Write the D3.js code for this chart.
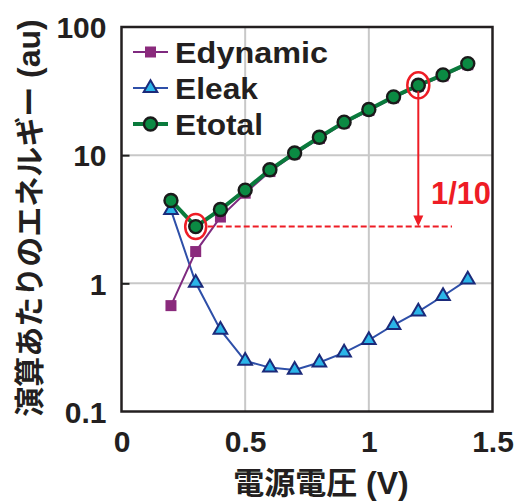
<!DOCTYPE html>
<html><head><meta charset="utf-8">
<script src="https://cdn.jsdelivr.net/npm/d3@7"></script>
<style>
html,body{margin:0;padding:0;background:#fff;}
svg{display:block;}
</style></head>
<body>
<svg id="chart" width="519" height="502"></svg>
<script>
// ---- data ----
const voltages = [0.2,0.3,0.4,0.5,0.6,0.7,0.8,0.9,1.0,1.1,1.2,1.3,1.4];
const eDynamic = [0.67,1.77,3.29,5.05,7.45,10.2,13.5,17.8,22.3,28.0,34.5,41.5,50.8];
const eLeak    = [3.73,1.01,0.433,0.248,0.220,0.211,0.241,0.288,0.361,0.473,0.601,0.796,1.07];
const eTotal   = [4.43,2.77,3.77,5.34,7.69,10.4,13.8,18.1,22.7,28.5,35.1,42.3,51.8];
const seriesNames = ["Edynamic","Eleak","Etotal"];
const xTicks = [0,0.5,1,1.5];
const xTickLabels = ["0","0.5","1","1.5"];
const yTicks = [0.1,1,10,100];
const yTickLabels = ["0.1","1","10","100"];
const xTitle = "電源電圧";
const xUnit = " (V)";
const yTitle = "演算あたりのエネルギー";
const yUnit = " (au)";
const ratioLabel = "1/10";
const minIndex = 1;   // 0.3 V
const refIndex = 10;  // 1.2 V

// ---- layout ----
const svg = d3.select("#chart");
const L = 121.5, R = 492.5, T = 27, B = 411.5;
const x = d3.scaleLinear().domain([0,1.5]).range([L,R]);
const y = d3.scaleLog().domain([0.1,100]).range([B,T]);
const LATIN = "'Liberation Sans', Arial, Helvetica, sans-serif";
const CJK = "'Noto Sans CJK JP', 'Liberation Sans', sans-serif";

// gridlines
const grid = svg.append("g");
grid.selectAll("line.v").data([0.5,1]).enter().append("line")
  .attr("x1",d=>x(d)).attr("x2",d=>x(d)).attr("y1",T).attr("y2",B)
  .attr("stroke","#c8c8c8").attr("stroke-width",2);
grid.selectAll("line.h").data([1,10]).enter().append("line")
  .attr("x1",L).attr("x2",R).attr("y1",d=>y(d)).attr("y2",d=>y(d))
  .attr("stroke","#c8c8c8").attr("stroke-width",2);

// axes
const yAxis = d3.axisRight(y).tickValues([1,10]).tickSize(8).tickFormat("");
const ya = svg.append("g").attr("transform",`translate(${L},0)`).call(yAxis);
ya.select(".domain").remove();
ya.selectAll("line").attr("stroke","#222").attr("stroke-width",2);

const xAxisG = svg.append("g").attr("transform",`translate(0,${B})`)
  .call(d3.axisBottom(x).tickValues(xTicks).tickSize(0).tickFormat((d,i)=>xTickLabels[i]));
xAxisG.select(".domain").remove();
xAxisG.selectAll("text").attr("y",40).attr("dy",0)
  .attr("font-family",LATIN).attr("font-weight","bold").attr("font-size",30).attr("fill","#231f20");

const yAxisG = svg.append("g").attr("transform",`translate(${L},0)`)
  .call(d3.axisLeft(y).tickValues(yTicks).tickSize(0).tickFormat((d,i)=>yTickLabels[i]));
yAxisG.select(".domain").remove();
yAxisG.selectAll("text").attr("x",-15).attr("dy","0.36em")
  .attr("font-family",LATIN).attr("font-weight","bold").attr("font-size",30).attr("fill","#231f20");

// series
const colors = {Edynamic:"#7f2a7f", Eleak:"#2e4fa8", Etotal:"#0a7a3c"};
const mk = (vals)=>voltages.map((v,i)=>({x:v,y:vals[i]}));
const line = d3.line().x(d=>x(d.x)).y(d=>y(d.y));

const gLeak = svg.append("g");
gLeak.append("path").datum(mk(eLeak)).attr("d",line).attr("fill","none")
  .attr("stroke",colors.Eleak).attr("stroke-width",2);
const tri = d3.symbol().type(d3.symbolTriangle).size(80);
gLeak.selectAll("path.m").data(mk(eLeak)).enter().append("path")
  .attr("transform",d=>`translate(${x(d.x)},${y(d.y)})`).attr("d",tri)
  .attr("fill","#2bb5e8").attr("stroke","#1b2a7a").attr("stroke-width",2);

const gDyn = svg.append("g");
gDyn.append("path").datum(mk(eDynamic)).attr("d",line).attr("fill","none")
  .attr("stroke",colors.Edynamic).attr("stroke-width",2);
gDyn.selectAll("rect").data(mk(eDynamic)).enter().append("rect")
  .attr("x",d=>x(d.x)-5.5).attr("y",d=>y(d.y)-5.5).attr("width",11).attr("height",11)
  .attr("fill","#8a2a7c");

const gTot = svg.append("g");
gTot.append("path").datum(mk(eTotal)).attr("d",line).attr("fill","none")
  .attr("stroke",colors.Etotal).attr("stroke-width",4);
gTot.selectAll("circle").data(mk(eTotal)).enter().append("circle")
  .attr("cx",d=>x(d.x)).attr("cy",d=>y(d.y)).attr("r",6.5)
  .attr("fill","#0b8a43").attr("stroke","#1a1a1a").attr("stroke-width",2.4);

// annotations
const red = "#ee1c25";
const ann = svg.append("g");
ann.append("ellipse").attr("cx",x(voltages[minIndex])).attr("cy",y(eTotal[minIndex]))
  .attr("rx",10.5).attr("ry",12.5).attr("fill","none").attr("stroke",red).attr("stroke-width",2.5);
ann.append("ellipse").attr("cx",x(voltages[refIndex])).attr("cy",y(eTotal[refIndex]))
  .attr("rx",11).attr("ry",13).attr("fill","none").attr("stroke",red).attr("stroke-width",2.5);
const yMin = y(eTotal[minIndex]);
ann.append("line").attr("x1",x(voltages[minIndex])+12).attr("x2",452)
  .attr("y1",yMin).attr("y2",yMin).attr("stroke",red).attr("stroke-width",2)
  .attr("stroke-dasharray","6,3");
const ax = x(voltages[refIndex]);
ann.append("line").attr("x1",ax).attr("x2",ax).attr("y1",y(eTotal[refIndex])+6)
  .attr("y2",yMin-8).attr("stroke",red).attr("stroke-width",2);
ann.append("path").attr("d",`M${ax-5},${yMin-11} L${ax+5},${yMin-11} L${ax},${yMin} Z`).attr("fill",red);
ann.append("text").attr("x",431).attr("y",204).text(ratioLabel)
  .attr("font-family",LATIN).attr("font-weight","bold").attr("font-size",32).attr("fill",red)
  .attr("textLength",60).attr("lengthAdjust","spacingAndGlyphs");

// frame
svg.append("rect").attr("x",L).attr("y",T).attr("width",R-L).attr("height",B-T)
  .attr("fill","none").attr("stroke","#231f20").attr("stroke-width",2.5);

// legend
const leg = svg.append("g");
const legRows = [52, 88, 124];
const legWidths = [153, 83, 88];
seriesNames.forEach((name,i)=>{
  const gy = legRows[i];
  leg.append("line").attr("x1",133).attr("x2",168).attr("y1",gy).attr("y2",gy)
    .attr("stroke",colors[name]).attr("stroke-width", name==="Etotal"?4:2);
  if(name==="Edynamic"){
    leg.append("rect").attr("x",145).attr("y",gy-5.5).attr("width",11).attr("height",11).attr("fill","#8a2a7c");
  } else if(name==="Eleak"){
    leg.append("path").attr("transform",`translate(150.5,${gy})`).attr("d",tri)
      .attr("fill","#2bb5e8").attr("stroke","#1b2a7a").attr("stroke-width",2);
  } else {
    leg.append("circle").attr("cx",150.5).attr("cy",gy).attr("r",6.5)
      .attr("fill","#0b8a43").attr("stroke","#1a1a1a").attr("stroke-width",2.4);
  }
  leg.append("text").attr("x",175).attr("y",gy+10.5).text(name)
    .attr("font-family",LATIN).attr("font-weight","bold").attr("font-size",29).attr("fill","#231f20")
    .attr("textLength",legWidths[i]).attr("lengthAdjust","spacingAndGlyphs");
});

// axis titles
const xt = svg.append("text").attr("x",321).attr("y",494).attr("text-anchor","middle")
  .attr("font-weight","bold").attr("fill","#231f20");
xt.append("tspan").attr("font-family",CJK).attr("font-size",31).text(xTitle);
xt.append("tspan").attr("font-family",LATIN).attr("font-size",32).text(xUnit);

const yt = svg.append("text").attr("transform","translate(40,218) rotate(-90)")
  .attr("text-anchor","middle").attr("font-weight","bold").attr("fill","#231f20");
yt.append("tspan").attr("font-family",CJK).attr("font-size",30).text(yTitle);
yt.append("tspan").attr("font-family",LATIN).attr("font-size",32).text(yUnit);
</script>
</body></html>
